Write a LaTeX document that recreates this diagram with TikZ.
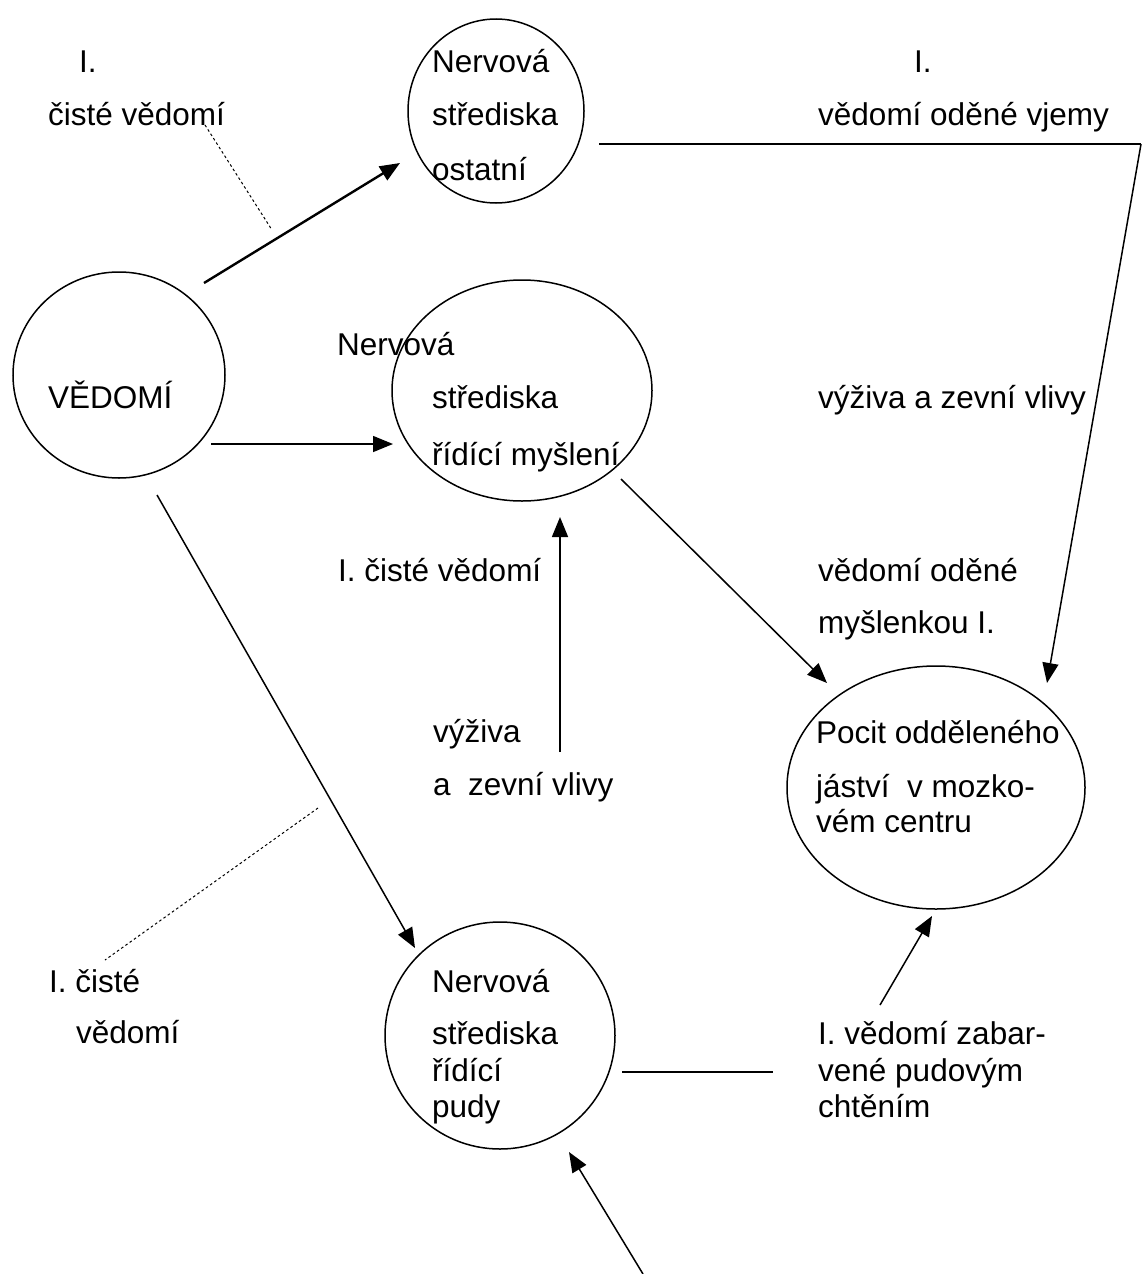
\documentclass[tikz,border=0pt]{standalone}
\usepackage{fontspec}
\setmainfont{Liberation Sans}
\usetikzlibrary{arrows.meta,shapes.geometric}
\begin{document}
\begin{tikzpicture}[x=1pt,y=-1pt,
  lbl/.style={anchor=base west, inner sep=0pt, font=\fontsize{31.5}{36}\selectfont},
  oval/.style={draw, ellipse, line width=1.5pt, inner sep=0pt},
  conn/.style={line width=1.5pt},
  heavy/.style={line width=2.4pt},
  tip/.style={-{Triangle[length=20pt,width=16pt]}},
  dots/.style={line width=1pt, dash pattern=on 2.6pt off 2.6pt}]
\useasboundingbox (0,0) rectangle (1141,1274);

% ovals
\node[oval, minimum width=176pt, minimum height=184pt] (ostatni) at (496,111) {};
\node[oval, minimum width=212pt, minimum height=206pt] (vedomi)  at (119,375) {};
\node[oval, minimum width=260pt, minimum height=221pt] (mysleni) at (522,390.5) {};
\node[oval, minimum width=298pt, minimum height=243pt] (pocit)   at (936,787.5) {};
\node[oval, minimum width=230pt, minimum height=227pt] (pudy)    at (500,1035.5) {};

% texts
\node[lbl] (t1)  at (79,72)   {I.};
\node[lbl] (t2)  at (48,125)  {čisté vědomí};
\node[lbl] (t3)  at (432,72)  {Nervová};
\node[lbl] (t4)  at (432,125) {střediska};
\node[lbl] (t5)  at (432,180) {ostatní};
\node[lbl] (t6)  at (914,72)  {I.};
\node[lbl] (t7)  at (818,125) {vědomí oděné vjemy};
\node[lbl] (t8)  at (48,408)  {VĚDOMÍ};
\node[lbl] (t9)  at (337,355) {Nervová};
\node[lbl] (t10) at (432,408) {střediska};
\node[lbl] (t11) at (432,465) {řídící myšlení};
\node[lbl] (t12) at (818,408) {výživa a zevní vlivy};
\node[lbl] (t13) at (338,581) {I. čisté vědomí};
\node[lbl] (t14) at (818,581) {vědomí oděné};
\node[lbl] (t15) at (818,633) {myšlenkou I.};
\node[lbl] (t16) at (433,742) {výživa};
\node[lbl] (t17) at (433,795) {a\ \ zevní vlivy};
\node[lbl] (t18) at (816,743) {Pocit odděleného};
\node[lbl] (t19) at (816,797) {jáství\ \ v mozko-};
\node[lbl] (t20) at (816,832) {vém centru};
\node[lbl] (t21) at (49,992)  {I. čisté};
\node[lbl] (t22) at (76,1043) {vědomí};
\node[lbl] (t23) at (432,992) {Nervová};
\node[lbl] (t24) at (432,1044) {střediska};
\node[lbl] (t25) at (432,1081) {řídící};
\node[lbl] (t26) at (432,1117) {pudy};
\node[lbl] (t27) at (818,1044) {I. vědomí zabar-};
\node[lbl] (t28) at (818,1081) {vené pudovým};
\node[lbl] (t29) at (818,1117) {chtěním};

% connector end points
\coordinate (a1s) at (204,283);  \coordinate (a1e) at (400,163);
\coordinate (a2s) at (211,444);  \coordinate (a2e) at (393,444);
\coordinate (a3s) at (157,495);  \coordinate (a3e) at (415,948);
\coordinate (a4s) at (621,479);  \coordinate (a4e) at (827,683);
\coordinate (a5s) at (560,752);  \coordinate (a5e) at (560,517);
\coordinate (h1s) at (599,144);  \coordinate (h1e) at (1141,144);
\coordinate (a6e) at (1047,683);
\coordinate (a7s) at (880,1005); \coordinate (a7e) at (932,916);
\coordinate (h2s) at (622,1072); \coordinate (h2e) at (773,1072);
\coordinate (a8s) at (643,1274); \coordinate (a8e) at (569,1152);
\coordinate (d1s) at (205,125);  \coordinate (d1e) at (272,230);
\coordinate (d2s) at (318,808);  \coordinate (d2e) at (105,960);

% connectors
\draw[heavy,tip] (a1s) -- (a1e);
\draw[conn,tip]  (a2s) -- (a2e);
\draw[conn,tip]  (a3s) -- (a3e);
\draw[conn,tip]  (a4s) -- (a4e);
\draw[conn,tip]  (a5s) -- (a5e);
\draw[heavy]     (h1s) -- (h1e);
\draw[conn,tip]  (h1e) -- (a6e);
\draw[conn,tip]  (a7s) -- (a7e);
\draw[heavy]     (h2s) -- (h2e);
\draw[conn,tip]  (a8s) -- (a8e);
\draw[dots] (d1s) -- (d1e);
\draw[dots] (d2s) -- (d2e);
\end{tikzpicture}
\end{document}
